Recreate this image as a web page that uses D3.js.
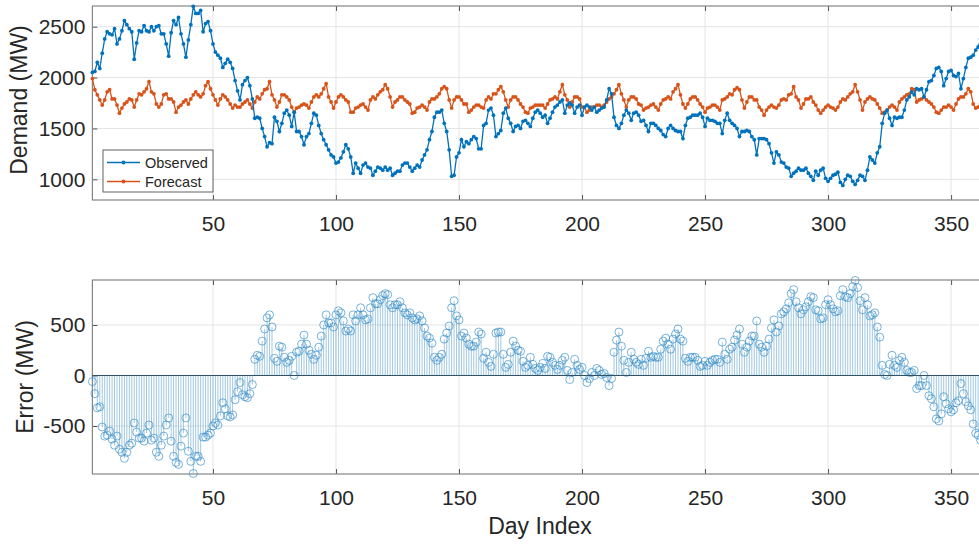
<!DOCTYPE html>
<html lang="en">
<head>
<meta charset="UTF-8">
<title>Observed vs Forecast Demand</title>
<script src="https://d3js.org/d3.v7.min.js"></script>
<style>
  body { margin:0; overflow:hidden; background:#ffffff; }
  text { font-family: "Liberation Sans", Arial, Helvetica, sans-serif; fill:#262626; }
  .tick text { font-size:21px; }
  .axis-label { font-size:23px; }
  .legend text { font-size:14.5px; }
</style>
</head>
<body>
<svg id="chart" width="1000" height="545"></svg>
<script>

// day index 1..365
var days = d3.range(1, 366);

var observed = [
  2050,2060,2150,2090,2240,2380,2450,2430,2420,2480,
  2330,2380,2460,2560,2520,2480,2450,2180,2340,2460,
  2450,2510,2460,2450,2500,2460,2500,2510,2430,2430,
  2330,2210,2440,2560,2520,2590,2430,2330,2200,2370,
  2520,2700,2630,2630,2660,2450,2530,2550,2460,2330,
  2250,2220,2190,2100,2140,2180,2150,2090,1970,1870,
  1780,1930,1970,2000,1920,1790,1600,1610,1600,1500,
  1420,1320,1360,1350,1610,1570,1470,1550,1650,1680,
  1630,1520,1660,1470,1470,1420,1340,1420,1450,1550,
  1650,1630,1530,1450,1390,1340,1290,1240,1220,1160,
  1170,1210,1270,1340,1300,1220,1060,1160,1110,1060,
  1140,1160,1120,1110,1040,1080,1120,1110,1090,1120,
  1090,1110,1040,1060,1080,1080,1140,1160,1160,1120,
  1080,1110,1140,1120,1190,1240,1290,1390,1470,1610,
  1660,1660,1680,1550,1470,1290,1030,1040,1220,1260,
  1390,1320,1370,1350,1390,1420,1400,1300,1300,1530,
  1550,1680,1700,1630,1420,1450,1480,1650,1700,1600,
  1550,1470,1520,1530,1500,1570,1580,1550,1520,1600,
  1660,1680,1650,1610,1630,1550,1600,1660,1710,1730,
  1760,1780,1650,1730,1750,1730,1650,1710,1730,1630,
  1710,1730,1710,1680,1710,1660,1680,1700,1710,1780,
  1890,1840,1610,1530,1500,1550,1630,1680,1650,1580,
  1650,1660,1630,1570,1580,1530,1470,1550,1550,1530,
  1500,1480,1440,1420,1500,1530,1500,1480,1470,1470,
  1400,1530,1600,1610,1630,1630,1630,1650,1610,1520,
  1600,1580,1580,1570,1550,1550,1450,1580,1650,1580,
  1550,1530,1500,1420,1470,1470,1480,1470,1420,1390,
  1240,1400,1400,1400,1390,1350,1260,1160,1270,1240,
  1170,1160,1120,1110,1030,1060,1080,1110,1090,1090,
  1110,1060,1030,990,1080,1040,1090,1110,1010,980,
  1010,1040,1050,1070,970,940,1000,1040,1030,980,
  950,990,1040,1030,990,1090,1220,1190,1160,1260,
  1320,1550,1650,1680,1600,1530,1610,1600,1610,1610,
  1680,1780,1810,1860,1830,1890,1880,1890,1810,1880,
  1960,1970,2020,2090,2100,2060,1920,1990,2060,2070,
  2020,2010,2040,1890,1990,2100,2190,2200,2220,2270,
  2300,2380,2400,2430,2450
];

var forecast = [
  1990,1880,1830,1780,1730,1780,1860,1880,1790,1790,
  1730,1650,1700,1740,1760,1790,1780,1710,1780,1840,
  1830,1860,1890,1960,1860,1840,1740,1710,1740,1830,
  1840,1790,1790,1760,1660,1710,1730,1760,1780,1740,
  1790,1830,1860,1830,1810,1840,1920,1960,1890,1830,
  1780,1730,1790,1830,1810,1780,1740,1700,1730,1710,
  1710,1740,1760,1780,1740,1700,1760,1810,1790,1840,
  1880,1890,1960,1830,1780,1710,1760,1830,1830,1810,
  1780,1710,1660,1700,1710,1730,1740,1730,1700,1760,
  1810,1830,1810,1840,1890,1940,1810,1760,1700,1760,
  1810,1830,1810,1780,1760,1660,1660,1700,1710,1730,
  1740,1710,1680,1780,1810,1790,1830,1860,1880,1930,
  1890,1810,1710,1760,1780,1810,1810,1780,1760,1740,
  1650,1660,1700,1710,1730,1710,1680,1760,1790,1790,
  1810,1840,1890,1910,1890,1780,1700,1780,1810,1810,
  1780,1740,1740,1660,1680,1710,1730,1730,1710,1700,
  1780,1810,1790,1840,1840,1880,1910,1860,1780,1710,
  1780,1810,1810,1780,1740,1710,1660,1650,1700,1710,
  1730,1730,1730,1730,1700,1740,1780,1790,1810,1790,
  1860,1930,1830,1780,1710,1760,1810,1810,1790,1710,
  1710,1660,1680,1710,1710,1730,1730,1710,1730,1760,
  1790,1810,1840,1880,1930,1840,1780,1710,1780,1810,
  1810,1790,1740,1730,1680,1700,1710,1730,1740,1710,
  1680,1740,1780,1790,1810,1790,1860,1890,1930,1830,
  1740,1700,1740,1790,1810,1810,1780,1740,1710,1660,
  1700,1710,1730,1730,1710,1680,1780,1790,1810,1840,
  1830,1880,1900,1880,1780,1700,1760,1810,1810,1780,
  1780,1710,1680,1630,1680,1710,1730,1710,1700,1730,
  1780,1790,1780,1830,1840,1910,1810,1780,1700,1740,
  1790,1790,1810,1760,1730,1680,1650,1680,1710,1730,
  1710,1700,1680,1710,1760,1790,1780,1810,1840,1860,
  1930,1860,1780,1680,1760,1790,1810,1790,1780,1740,
  1700,1650,1660,1680,1710,1730,1710,1680,1760,1790,
  1810,1830,1840,1890,1880,1760,1780,1790,1810,1780,
  1760,1740,1710,1660,1650,1680,1710,1710,1730,1710,
  1680,1740,1790,1810,1810,1840,1890,1860,1740,1700,
  1710,1740,1780,1810,1840
];

var errorMW = [
  -60,-180,-320,-310,-510,-600,-590,-550,-630,-690,
  -600,-730,-760,-820,-760,-690,-670,-470,-560,-620,
  -620,-650,-570,-490,-640,-620,-760,-800,-690,-600,
  -490,-420,-650,-800,-860,-880,-700,-570,-420,-750,
  -850,-970,-800,-800,-850,-610,-610,-590,-570,-500,
  -470,-490,-400,-270,-330,-400,-410,-390,-240,-160,
  -70,-190,-210,-220,-180,-90,160,200,190,340,
  460,570,600,480,170,140,290,280,180,130,
  150,190,0,230,240,310,400,310,250,210,
  160,200,280,390,500,600,520,520,480,600,
  640,620,540,440,460,440,600,540,600,670,
  600,550,560,670,770,710,710,750,790,810,
  800,700,670,700,700,730,670,620,600,620,
  570,550,560,590,540,470,390,370,320,180,
  150,180,210,360,420,490,670,740,590,550,
  390,420,370,310,290,290,330,430,410,170,
  230,130,90,210,420,430,430,210,80,110,
  230,340,290,250,240,140,80,100,180,110,
  70,50,80,120,70,190,180,130,100,60,
  100,150,180,50,-40,30,160,100,60,80,
  0,-70,-30,30,0,70,50,10,20,-20,
  -100,-30,230,350,430,290,150,30,130,230,
  160,130,110,160,100,170,240,180,190,180,
  180,260,340,370,310,260,360,410,460,360,
  340,170,140,180,180,180,150,90,100,140,
  100,130,150,160,160,130,330,210,160,260,
  280,350,400,460,310,230,280,340,390,390,
  540,310,280,230,290,360,470,550,430,490,
  610,630,660,720,810,850,730,670,610,650,
  680,730,780,770,650,640,560,570,700,750,
  700,660,630,640,790,850,780,770,810,880,
  940,870,740,650,770,700,590,600,620,480,
  380,100,10,0,110,200,100,80,150,180,
  130,50,30,30,50,-130,-100,-100,0,-100,
  -200,-230,-310,-430,-450,-380,-210,-280,-330,-360,
  -340,-270,-250,-80,-180,-260,-300,-340,-480,-570,
  -590,-640,-620,-620,-610
];

var xTicks = [50, 100, 150, 200, 250, 300, 350];
var demandTicks = [1000, 1500, 2000, 2500];
var errorTicks = [-500, 0, 500];
var seriesNames = ["Observed", "Forecast"];
var seriesColors = ["#0072BD", "#D95319"];

var svg = d3.select("#chart");

// plain integer labels, hyphen minus like the source
var plain = function(d) { return String(d); };

// scales (plot area runs past the right edge of the window, as in the source)
var x = d3.scaleLinear().domain([1, 365]).range([92.4, 988]);
var yDemand = d3.scaleLinear().domain([797, 2703]).range([200, 6]);
var yError = d3.scaleLinear().domain([-975, 945]).range([474, 280]);

// grid, ticks and box of one subplot
function drawFrame(y, yTicks) {
  var top = y.range()[1], bottom = y.range()[0];
  var left = x.range()[0], right = x.range()[1];
  var g = svg.append("g");

  g.selectAll(".vgrid").data(xTicks).enter().append("line")
    .attr("x1", function(d) { return x(d); })
    .attr("x2", function(d) { return x(d); })
    .attr("y1", top).attr("y2", bottom)
    .attr("stroke", "#e4e4e4");
  g.selectAll(".hgrid").data(yTicks).enter().append("line")
    .attr("x1", left).attr("x2", right)
    .attr("y1", function(d) { return y(d); })
    .attr("y2", function(d) { return y(d); })
    .attr("stroke", "#e4e4e4");

  g.append("g")
    .attr("transform", "translate(0," + bottom + ")")
    .style("color", "#555")
    .call(d3.axisBottom(x).tickValues(xTicks).tickFormat(plain)
      .tickSizeInner(-5).tickSizeOuter(0).tickPadding(16))
    .call(function(a) { a.select(".domain").remove(); });
  g.append("g")
    .attr("transform", "translate(0," + top + ")")
    .style("color", "#555")
    .call(d3.axisTop(x).tickValues(xTicks).tickSizeInner(-5).tickSizeOuter(0).tickFormat(""))
    .call(function(a) { a.select(".domain").remove(); });
  g.append("g")
    .attr("transform", "translate(" + left + ",0)")
    .style("color", "#555")
    .call(d3.axisLeft(y).tickValues(yTicks).tickFormat(plain)
      .tickSizeInner(-5).tickSizeOuter(0).tickPadding(7))
    .call(function(a) { a.select(".domain").remove(); });

  g.append("rect")
    .attr("x", left).attr("y", top)
    .attr("width", right - left).attr("height", bottom - top)
    .attr("fill", "none")
    .attr("stroke", "#858585")
    .attr("stroke-width", 1.2);
  return g;
}

// ---- top: demand ----
drawFrame(yDemand, demandTicks);

var demandSeries = [observed, forecast];
demandSeries.slice().reverse().forEach(function(vals, k) {
  var i = demandSeries.length - 1 - k;
  var pts = days.map(function(d, j) { return { day: d, v: vals[j] }; });
  var line = d3.line()
    .x(function(d) { return x(d.day); })
    .y(function(d) { return yDemand(d.v); });
  var g = svg.append("g");
  g.append("path")
    .datum(pts)
    .attr("d", line)
    .attr("fill", "none")
    .attr("stroke", seriesColors[i])
    .attr("stroke-width", 1.3);
  g.selectAll("circle").data(pts).enter().append("circle")
    .attr("cx", function(d) { return x(d.day); })
    .attr("cy", function(d) { return yDemand(d.v); })
    .attr("r", 1.9)
    .attr("fill", seriesColors[i]);
});

// legend
var legend = svg.append("g").attr("class", "legend");
legend.append("rect")
  .attr("x", 103).attr("y", 150).attr("width", 110).attr("height", 42)
  .attr("fill", "#fff").attr("stroke", "#3a3a3a").attr("stroke-width", 0.8);
seriesNames.forEach(function(name, i) {
  var ly = 162.5 + i * 19;
  legend.append("line")
    .attr("x1", 107).attr("x2", 140).attr("y1", ly).attr("y2", ly)
    .attr("stroke", seriesColors[i]).attr("stroke-width", 1.3);
  legend.append("circle")
    .attr("cx", 123.5).attr("cy", ly).attr("r", 1.9)
    .attr("fill", seriesColors[i]);
  legend.append("text")
    .attr("x", 145).attr("y", ly).attr("dy", "0.35em")
    .text(name);
});

svg.append("text")
  .attr("class", "axis-label")
  .attr("text-anchor", "middle")
  .attr("transform", "translate(19,100) rotate(-90)")
  .attr("dy", "0.35em")
  .text("Demand (MW)");

// ---- bottom: error stems ----
drawFrame(yError, errorTicks);

var errPts = days.map(function(d, j) { return { day: d, e: errorMW[j] }; });
var stems = svg.append("g");
stems.selectAll("line").data(errPts).enter().append("line")
  .attr("x1", function(d) { return x(d.day); })
  .attr("x2", function(d) { return x(d.day); })
  .attr("y1", yError(0))
  .attr("y2", function(d) { return yError(d.e); })
  .attr("stroke", "#3f8fbf")
  .attr("stroke-opacity", 0.7)
  .attr("stroke-width", 0.7);
svg.append("line")
  .attr("x1", x.range()[0]).attr("x2", x.range()[1])
  .attr("y1", yError(0)).attr("y2", yError(0))
  .attr("stroke", "#2f4f66").attr("stroke-width", 1);
stems.selectAll("circle").data(errPts).enter().append("circle")
  .attr("cx", function(d) { return x(d.day); })
  .attr("cy", function(d) { return yError(d.e); })
  .attr("r", 4)
  .attr("fill", "none")
  .attr("stroke", "#2a88c4")
  .attr("stroke-opacity", 0.8)
  .attr("stroke-width", 0.8);

svg.append("text")
  .attr("class", "axis-label")
  .attr("text-anchor", "middle")
  .attr("transform", "translate(25,377) rotate(-90)")
  .attr("dy", "0.35em")
  .text("Error (MW)");

svg.append("text")
  .attr("class", "axis-label")
  .attr("text-anchor", "middle")
  .attr("x", 540).attr("y", 526)
  .attr("dy", "0.35em")
  .text("Day Index");

</script>
</body>
</html>
